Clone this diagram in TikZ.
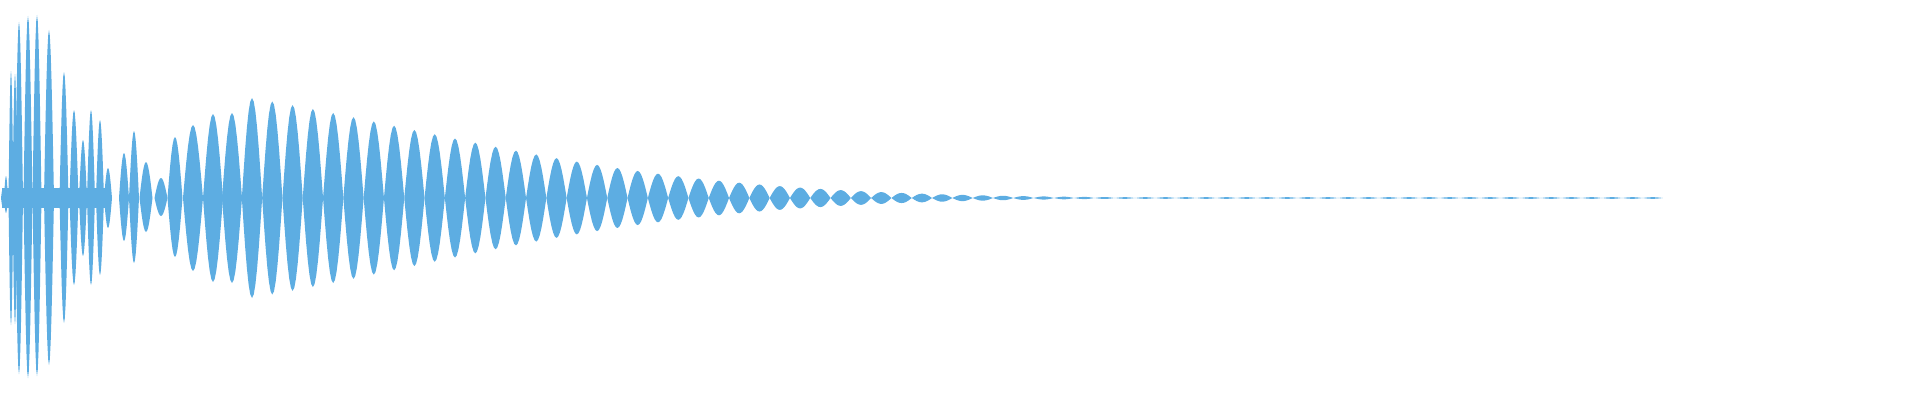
\documentclass[tikz,border=0pt]{standalone}
\definecolor{wave}{RGB}{93,173,226}
\tikzset{lobe/.style={fill=wave, draw=none}}
\begin{document}
\begin{tikzpicture}[x=1pt,y=1pt]
    \useasboundingbox (0,0) rectangle (1920,400);
    % dense core of the onset
    \fill[lobe] (2,192) rectangle (108,212);
    % onset spikes: position / top / bottom / width
    \foreach \c/\t/\b/\w in {3/10/10/4, 6/22/15/4, 11/127/127/5, 15/124/126/5, 19/176/176/8,
        28/182/180/9, 37/183/178/9, 49/168/167/10, 64/126/125/9, 74/88/87/9,
        83/58/58/8, 91/88/87/8, 100/78/77/8, 108/30/30/8, 124/45/43/10,
        134/67/65/10, 146/36/34/13, 161/20/18/13, 175/61/59/15,
        193/73/73/20, 213/84/84/20, 232/85/85/20}
        \fill[lobe] plot[variable=\s,domain=0:180,samples=13] ({\c+\w*(\s/180-0.5)},{202+\t*sin(\s)})
            -- plot[variable=\s,domain=180:0,samples=13] ({\c+\w*(\s/180-0.5)},{202-\b*sin(\s)}) -- cycle;
    % decaying lobes
    \foreach \k in {0,...,69} {
        \pgfmathsetmacro{\c}{252+20.3*\k}
        \pgfmathsetmacro{\v}{(\c-252)/100}
        \pgfmathsetmacro{\a}{max(100*exp(-0.163*\v-0.0456*\v*\v),0.8)}
        \fill[lobe] plot[variable=\s,domain=0:180,samples=13] ({\c+20.3*(\s/180-0.5)},{202+\a*sin(\s)})
            -- plot[variable=\s,domain=180:0,samples=13] ({\c+20.3*(\s/180-0.5)},{202-\a*sin(\s)}) -- cycle;
    }
\end{tikzpicture}
\end{document}
